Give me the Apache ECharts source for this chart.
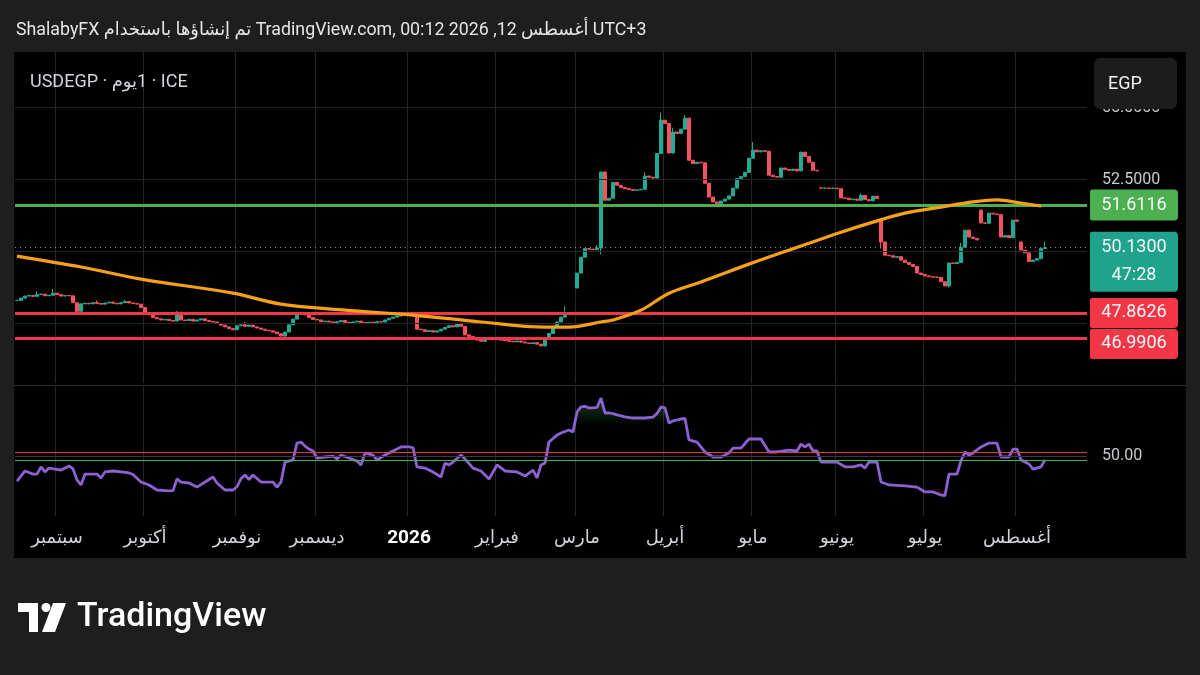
<!DOCTYPE html>
<html><head><meta charset="utf-8">
<script src="https://cdn.jsdelivr.net/npm/echarts@6/dist/echarts.min.js"></script>
<style>html,body{margin:0;padding:0;background:#1e1e1e;}#c{width:1200px;height:675px;}</style>
</head><body><div id="c"></div>
<script>
// ---------- DATA ----------
const startDate = [2025, 7, 18];          // first daily bar (Mon 18 Aug 2025)
const futureSlots = 10;                   // empty slots to the right of the last bar
const closes = [
48.30,48.38,48.45,48.47,48.44,48.50,48.52,48.46,48.48,48.55,
48.50,48.45,48.47,48.46,48.22,47.92,48.18,48.20,48.18,48.22,
48.19,48.17,48.21,48.24,48.20,48.18,48.22,48.26,48.21,48.19,
48.17,48.05,47.88,47.80,47.70,47.66,47.62,47.64,47.60,47.58,
47.89,47.62,47.60,47.64,47.58,47.62,47.66,47.60,47.57,47.55,
47.50,47.44,47.38,47.32,47.28,47.42,47.45,47.40,47.44,47.38,
47.34,47.30,47.26,47.24,47.20,47.14,47.06,47.20,47.45,47.65,
47.85,47.88,47.80,47.70,47.64,47.62,47.56,47.58,47.55,47.52,
47.56,47.60,47.54,47.50,47.55,47.58,47.53,47.50,47.54,47.52,
47.56,47.55,47.62,47.68,47.72,47.76,47.80,47.82,47.78,47.80,
47.30,47.28,47.22,47.25,47.20,47.24,47.30,47.36,47.42,47.38,
47.48,47.40,47.10,47.05,46.98,46.92,46.88,46.95,46.98,46.94,
46.96,46.92,46.90,46.88,46.86,46.89,46.85,46.82,46.80,46.83,
46.78,46.72,46.95,47.15,47.40,47.55,47.72,47.85,47.88,47.86,
49.25,49.80,50.10,50.08,50.06,50.12,52.76,51.78,51.85,52.40,
52.30,52.22,52.18,52.15,52.12,52.14,52.16,52.62,52.58,52.55,
53.40,54.56,54.45,53.42,54.15,54.10,54.25,54.63,53.17,53.05,
53.10,53.08,52.37,51.89,51.72,51.66,51.75,51.82,51.93,52.20,
52.53,52.60,52.75,53.24,53.52,53.46,53.50,53.48,52.65,52.60,
52.58,52.90,52.85,52.82,52.86,52.80,53.45,53.30,53.10,52.82,
52.80,52.20,52.20,52.19,52.20,52.18,51.86,51.85,51.80,51.82,
51.78,51.95,51.80,51.76,51.92,51.84,50.33,49.87,49.85,49.80,
49.82,49.70,49.62,49.55,49.48,49.25,49.20,49.15,49.12,49.11,
49.10,48.95,48.80,49.60,49.58,49.62,50.15,50.74,50.50,50.45,
50.40,50.99,50.98,51.33,51.30,51.28,50.50,50.55,50.48,51.09,
51.05,50.05,49.95,49.65,49.70,49.75,50.10,50.13
];
// bars that opened with a gap (otherwise open = previous close)
const gapOpens = {140:48.73, 201:52.21, 216:51.09, 241:51.44, 251:50.33};
const wickHighs = {5:48.62, 9:48.70, 20:48.30, 27:48.32, 40:47.93, 57:47.55, 137:48.10, 145:50.22,
  157:52.75, 161:54.82, 164:54.30, 167:54.74, 184:53.80, 211:52.02, 236:50.30, 257:50.34};
const wickLows = {15:47.86, 132:46.70, 146:49.90, 216:50.10, 233:48.75};
const maPoints = [[0,49.84],[16,49.46],[31,49.04],[54,48.55],[66,48.17],[82,47.96],[99,47.79],
  [116,47.55],[132,47.37],[138,47.37],[146,47.55],[149,47.62],[156,47.96],[163,48.55],[171,48.94],
  [183,49.56],[196,50.19],[206,50.67],[214,51.02],[222,51.33],[231,51.54],[239,51.72],[245,51.79],
  [251,51.68],[256,51.58]];
const resistanceLevels = [51.6116];
const supportLevels = [47.8626, 46.9906];
const lastPrice = 50.13;
const countdown = '47:28';
const priceGridLines = [47.5, 50, 52.5, 55];
const priceTickLabels = [52.5, 55];
const rsiPoints = [[0,34.5],[2,40.7],[4,38.8],[5,38.8],[6,43.2],[7,40.1],[8,42.5],[11,41.3],[13,43.8],
 [14,42.0],[15,35.2],[16,32.1],[17,38.8],[20,38.8],[21,36.4],[22,40.1],[24,40.7],[26,40.1],[28,39.5],
 [29,38.5],[31,33.9],[33,32.1],[35,29.0],[38,28.4],[39,28.6],[40,35.8],[41,33.9],[43,33.3],[45,30.8],
 [47,33.9],[49,37.0],[50,33.3],[52,29.0],[54,29.0],[55,31.0],[56,36.0],[57,38.2],[58,35.5],[59,38.2],
 [61,33.9],[64,33.9],[65,30.8],[66,33.9],[67,46.2],[69,47.5],[70,57.9],[71,58.5],[72,56.0],[73,54.2],
 [74,53.0],[75,48.7],[77,49.3],[79,49.9],[80,48.1],[81,50.5],[83,48.7],[85,46.8],[86,44.4],[87,51.8],
 [89,50.5],[90,47.5],[92,50.5],[94,53.0],[96,55.5],[98,55.5],[99,55.0],[100,43.2],[102,42.5],[104,40.1],
 [106,37.0],[107,45.6],[108,44.4],[109,46.2],[111,50.5],[112,48.1],[114,42.5],[116,40.7],[118,35.8],
 [120,44.4],[122,40.7],[125,40.1],[127,37.6],[129,41.3],[130,36.4],[131,44.4],[132,45.6],[133,58.5],
 [135,62.8],[136,64.1],[138,65.9],[139,64.7],[140,77.0],[141,80.1],[142,80.5],[143,79.5],[144,79.5],
 [145,79.8],[146,85.6],[147,76.4],[148,76.4],[149,76.0],[150,75.2],[152,74.0],[154,73.3],[157,73.3],
 [159,73.9],[160,76.0],[161,80.1],[162,79.5],[163,70.2],[164,71.5],[166,72.7],[167,73.0],[168,59.8],
 [170,58.5],[172,52.4],[174,49.3],[176,49.3],[178,51.8],[179,54.8],[181,54.8],[183,60.4],[186,60.4],
 [188,52.4],[190,52.4],[193,53.6],[195,53.0],[196,57.3],[197,55.5],[198,57.3],[199,53.0],[200,53.0],
 [201,46.2],[205,46.2],[207,43.2],[209,43.2],[211,44.4],[212,42.5],[213,46.2],[215,46.2],[216,33.9],
 [218,32.1],[222,31.5],[225,30.8],[227,27.8],[229,27.8],[231,25.9],[232,25.6],[233,38.8],[235,38.8],
 [236,47.0],[237,52.4],[238,50.5],[239,51.8],[241,55.5],[242,56.7],[243,57.9],[245,57.9],[246,49.3],
 [248,49.3],[249,54.2],[250,54.2],[251,47.5],[253,45.0],[254,41.9],[256,43.2],[257,47.5]];
const rsiOverbought = 70, rsiOversold = 30;
const rsiUpperLine = 52.5, rsiMidLine = 50, rsiLowerLine = 47.5;
const rsiTickLabels = [50];
const monthNames = ['يناير','فبراير','مارس','أبريل','مايو','يونيو','يوليو','أغسطس','سبتمبر','أكتوبر','نوفمبر','ديسمبر'];

// ---------- BUILD ----------
const dates = [];
{
  const d = new Date(Date.UTC(startDate[0], startDate[1], startDate[2]));
  while (dates.length < closes.length + futureSlots) {
    const wd = d.getUTCDay();
    if (wd !== 0 && wd !== 6) dates.push(d.toISOString().slice(0, 10));
    d.setUTCDate(d.getUTCDate() + 1);
  }
}
const monthStart = new Set();
dates.forEach((s, i) => { if (i > 0 && s.slice(5, 7) !== dates[i - 1].slice(5, 7)) monthStart.add(i); });
const isMonthStart = (i) => monthStart.has(i);

const candles = closes.map((c, i) => {
  const o = gapOpens[i] !== undefined ? gapOpens[i] : (i === 0 ? c : closes[i - 1]);
  const hi = Math.max(o, c, wickHighs[i] !== undefined ? wickHighs[i] : -Infinity);
  const lo = Math.min(o, c, wickLows[i] !== undefined ? wickLows[i] : Infinity);
  return [o, c, lo, hi];
});
while (candles.length < dates.length) candles.push('-');

const obSeg = rsiPoints.filter(p => p[0] >= 140 && p[0] <= 167);
const osSeg = rsiPoints.filter(p => p[0] >= 227 && p[0] <= 232);

const UP = '#22ab94', DOWN = '#f7525f', GREEN = '#4caf50', RED = '#f23645';
const FONT = 'Roboto, "DejaVu Sans", sans-serif';
const GRIDC = '#262626';

const gridLeft = 15, gridRight = 113;
const xAxisCommon = {
  type: 'category', data: dates, boundaryGap: true,
  axisLine: {show: false}, axisTick: {show: false},
  splitLine: {show: true, interval: (i) => isMonthStart(i), lineStyle: {color: GRIDC, width: 1}}
};

const option = {
  backgroundColor: '#1e1e1e',
  animation: false,
  grid: [
    {left: gridLeft, right: gridRight, top: 52, height: 331},
    {left: gridLeft, right: gridRight, top: 386, height: 130}
  ],
  xAxis: [
    Object.assign({gridIndex: 0, axisLabel: {show: false}}, xAxisCommon),
    Object.assign({gridIndex: 1, axisLabel: {
      show: true, interval: (i) => isMonthStart(i), margin: 13,
      fontFamily: FONT, fontSize: 18, color: '#d1d4dc',
      formatter: (v) => { const m = +v.slice(5, 7); return m === 1 ? '{y|' + v.slice(0, 4) + '}' : monthNames[m - 1]; },
      rich: {y: {fontFamily: FONT, fontSize: 19, fontWeight: 'bold', color: '#ffffff'}}
    }}, xAxisCommon)
  ],
  yAxis: [
    {gridIndex: 0, type: 'value', position: 'right', min: 45.43, max: 56.93, scale: true,
      axisLine: {show: false}, axisTick: {show: false}, splitLine: {show: false},
      axisLabel: {customValues: priceTickLabels, margin: 15, fontFamily: FONT, fontSize: 16, color: '#c9cbd1',
        formatter: (v) => v.toFixed(4)}},
    {gridIndex: 1, type: 'value', position: 'right', min: 13, max: 93,
      axisLine: {show: false}, axisTick: {show: false}, splitLine: {show: false},
      axisLabel: {customValues: rsiTickLabels, margin: 15, fontFamily: FONT, fontSize: 16, color: '#c9cbd1',
        formatter: (v) => v.toFixed(2)}}
  ],
  series: [
    { // main-pane grid lines
      type: 'line', xAxisIndex: 0, yAxisIndex: 0, data: [], z: 1, silent: true,
      markLine: {silent: true, symbol: 'none', label: {show: false}, animation: false,
        lineStyle: {color: GRIDC, width: 1, type: 'solid'},
        data: priceGridLines.map(v => ({yAxis: v}))}
    },
    {
      type: 'candlestick', xAxisIndex: 0, yAxisIndex: 0, data: candles, z: 3,
      barWidth: '70%',
      itemStyle: {color: UP, color0: DOWN, borderColor: UP, borderColor0: DOWN, borderWidth: 1},
      markLine: {silent: true, symbol: 'none', label: {show: false}, animation: false,
        data: [
          {yAxis: lastPrice, lineStyle: {color: '#8a8d96', width: 1, type: [1, 4]}},
          ...resistanceLevels.map(v => ({yAxis: v, lineStyle: {color: GREEN, width: 3, type: 'solid'}})),
          ...supportLevels.map(v => ({yAxis: v, lineStyle: {color: RED, width: 3, type: 'solid'}}))
        ]}
    },
    {
      type: 'line', xAxisIndex: 0, yAxisIndex: 0, data: maPoints, z: 5, smooth: 0.35,
      symbol: 'none', lineStyle: {color: '#f6a01a', width: 3.2}
    },
    {
      type: 'line', xAxisIndex: 1, yAxisIndex: 1, data: obSeg, z: 2, symbol: 'none',
      lineStyle: {width: 0},
      areaStyle: {origin: rsiOverbought, color: {type: 'linear', x: 0, y: 0, x2: 0, y2: 1,
        colorStops: [{offset: 0, color: 'rgba(60,160,70,0.55)'}, {offset: 1, color: 'rgba(60,160,70,0.03)'}]}}
    },
    {
      type: 'line', xAxisIndex: 1, yAxisIndex: 1, data: osSeg, z: 2, symbol: 'none',
      lineStyle: {width: 0},
      areaStyle: {origin: rsiOversold, color: {type: 'linear', x: 0, y: 1, x2: 0, y2: 0,
        colorStops: [{offset: 0, color: 'rgba(200,50,60,0.45)'}, {offset: 1, color: 'rgba(200,50,60,0.03)'}]}}
    },
    {
      type: 'line', xAxisIndex: 1, yAxisIndex: 1, data: rsiPoints, z: 4, symbol: 'none',
      lineStyle: {color: '#8c62d3', width: 2.8},
      markLine: {silent: true, symbol: 'none', label: {show: false}, animation: false,
        data: [
          {yAxis: rsiMidLine, lineStyle: {color: '#3a3a3a', width: 1, type: 'solid'}},
          {yAxis: rsiUpperLine, lineStyle: {color: RED, width: 1.2, type: 'solid'}},
          {yAxis: rsiLowerLine, lineStyle: {color: GREEN, width: 1.2, type: 'solid'}}
        ]}
    }
  ]
};

const chart = echarts.init(document.getElementById('c'), null, {renderer: 'canvas', width: 1200, height: 675});
chart.setOption(option);

// ---------- overlays positioned from data ----------
const yOf = (v) => chart.convertToPixel({yAxisIndex: 0}, v);
const BX = 1090, BW = 88;
const g = [];
g.push({type: 'rect', z: -100, silent: true, shape: {x: 14, y: 52, width: 1172, height: 506}, style: {fill: '#000000'}});
// hide the category axis' closing boundary line at the right edge of the plot
g.push({type: 'rect', z: 1, silent: true, shape: {x: 1086.4, y: 52, width: 2.4, height: 465}, style: {fill: '#000000'}});
g.push({type: 'line', z: 1, silent: true, shape: {x1: 14, y1: 385.5, x2: 1186, y2: 385.5}, style: {stroke: '#2c2c2c', lineWidth: 1}});
// header
g.push({type: 'text', z: 100, style: {x: 16, y: 31, text: 'ShalabyFX تم إنشاؤها باستخدام TradingView.com, 00:12 2026 ,12 أغسطس UTC+3',
  font: '17.8px ' + FONT, fill: '#e6e6e6', textVerticalAlign: 'middle'}});
// legend title
g.push({type: 'text', z: 100, style: {x: 30, y: 82, text: 'USDEGP · يوم\u200E1 · ICE', font: '18px ' + FONT, fill: '#d1d4dc', textVerticalAlign: 'middle'}});
// EGP box
g.push({type: 'rect', z: 100, shape: {x: 1094, y: 58, width: 83, height: 51, r: 6}, style: {fill: '#1c1c1c'}});
g.push({type: 'text', z: 101, style: {x: 1108, y: 84, text: 'EGP', font: '18px ' + FONT, fill: '#f0f0f0', textVerticalAlign: 'middle'}});

function box(top, h, color, text) {
  g.push({type: 'rect', z: 100, shape: {x: BX, y: top, width: BW, height: h, r: [2, 4, 4, 2]}, style: {fill: color}});
  g.push({type: 'text', z: 101, style: {x: BX + BW / 2, y: top + h / 2, text: text, font: '18px ' + FONT,
    fill: '#f4f6fa', textAlign: 'center', textVerticalAlign: 'middle', lineHeight: 28}});
}
resistanceLevels.forEach(v => { const y = yOf(v); box(y - 15.5, 31, GREEN, v.toFixed(4)); });
{ const y = yOf(lastPrice); box(y - 16, 60, '#1fa38c', lastPrice.toFixed(4) + '\n' + countdown); }
{
  let prevBottom = -Infinity;
  supportLevels.forEach(v => {
    let top = yOf(v) - 15;
    if (top < prevBottom + 1) top = prevBottom + 1;
    box(top, 30, RED, v.toFixed(4));
    prevBottom = top + 30;
  });
}
// TradingView logo
g.push({type: 'polygon', z: 100, shape: {points: [[18, 603], [38, 603], [38, 632], [29, 632], [29, 612], [18, 612]]}, style: {fill: '#ffffff'}});
g.push({type: 'circle', z: 100, shape: {cx: 46, cy: 607.5, r: 4.5}, style: {fill: '#ffffff'}});
g.push({type: 'polygon', z: 100, shape: {points: [[53, 603], [66, 603], [55, 632], [42, 632]]}, style: {fill: '#ffffff'}});
g.push({type: 'text', z: 100, style: {x: 77, y: 617, text: 'TradingView', font: '500 34px ' + FONT, fill: '#ffffff', textVerticalAlign: 'middle'}});

chart.setOption({graphic: g});
</script></body></html>
